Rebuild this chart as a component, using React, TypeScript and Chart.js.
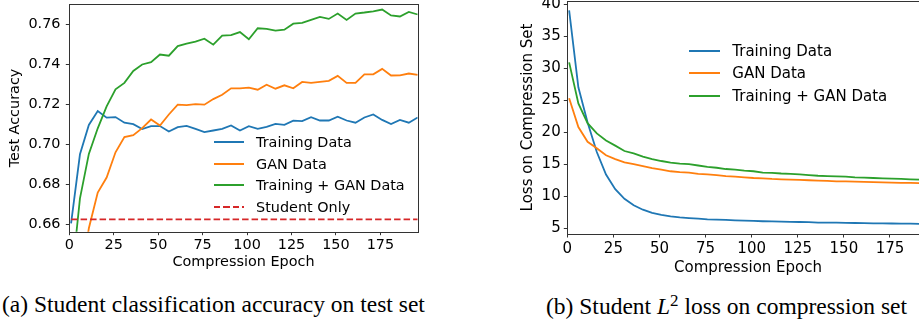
import React, { useEffect, useRef } from 'react';
import { Chart, registerables } from 'chart.js';

Chart.register(...registerables);

// ---------- data ----------
const epochs = [1, 6, 11, 16, 21, 26, 31, 36, 41, 46, 51, 56, 61, 66, 71, 76, 81, 86, 91, 96,
  101, 106, 111, 116, 121, 126, 131, 136, 141, 146, 151, 156, 161, 166, 171, 176, 181, 186, 191, 196];

const accTraining = [0.6605, 0.695, 0.7097, 0.7166, 0.7133, 0.7136, 0.7108, 0.7101, 0.7076, 0.7091,
  0.7091, 0.7064, 0.7086, 0.7092, 0.7077, 0.7061, 0.7069, 0.7077, 0.7094, 0.7069,
  0.7091, 0.7077, 0.7087, 0.7102, 0.7097, 0.7118, 0.7116, 0.7136, 0.7119, 0.7119,
  0.7138, 0.7119, 0.7108, 0.7134, 0.7149, 0.7122, 0.7101, 0.7122, 0.7108, 0.7134];

const accGAN = [0.60, 0.63, 0.658, 0.6759, 0.6834, 0.696, 0.7036, 0.7046, 0.7081, 0.7124,
  0.7094, 0.7149, 0.7198, 0.7196, 0.7201, 0.7198, 0.7226, 0.7248, 0.728, 0.728,
  0.7283, 0.7273, 0.7298, 0.7278, 0.7295, 0.728, 0.7312, 0.7307, 0.7312, 0.7317,
  0.7342, 0.7307, 0.7307, 0.735, 0.735, 0.7377, 0.7344, 0.7345, 0.7354, 0.7347];

const accCombined = [0.630, 0.673, 0.6952, 0.708, 0.719, 0.7275, 0.7307, 0.7367, 0.7399, 0.7411,
  0.7449, 0.7443, 0.7491, 0.7503, 0.7513, 0.7528, 0.7498, 0.7543, 0.7546, 0.7561,
  0.7525, 0.758, 0.7577, 0.7568, 0.7573, 0.7603, 0.7607, 0.7622, 0.7637, 0.7627,
  0.7654, 0.7622, 0.7654, 0.7659, 0.7665, 0.7674, 0.7644, 0.7639, 0.7662, 0.7649];

const studentOnlyAcc = 0.6625;

const lossTraining = [39.0, 27.0, 21.5, 16.9, 13.4, 11.1, 9.6, 8.6, 7.9, 7.4,
  7.1, 6.85, 6.7, 6.6, 6.5, 6.4, 6.35, 6.3, 6.25, 6.2,
  6.15, 6.1, 6.08, 6.05, 6.0, 5.98, 5.95, 5.9, 5.9, 5.88,
  5.85, 5.83, 5.8, 5.78, 5.77, 5.75, 5.73, 5.72, 5.7, 5.68];

const lossGAN = [25.3, 20.8, 18.5, 17.5, 16.4, 15.8, 15.3, 15.0, 14.7, 14.4,
  14.15, 13.9, 13.75, 13.7, 13.5, 13.4, 13.3, 13.15, 13.05, 12.95,
  12.85, 12.8, 12.7, 12.65, 12.6, 12.55, 12.5, 12.45, 12.4, 12.33,
  12.33, 12.28, 12.23, 12.2, 12.18, 12.13, 12.1, 12.08, 12.05, 12.03];

const lossCombined = [30.9, 24.5, 21.4, 19.8, 18.7, 17.9, 17.06, 16.7, 16.2, 15.8,
  15.5, 15.25, 15.1, 15.0, 14.8, 14.6, 14.45, 14.25, 14.15, 14.0,
  13.9, 13.7, 13.65, 13.55, 13.5, 13.4, 13.3, 13.2, 13.15, 13.1,
  13.05, 12.95, 12.9, 12.85, 12.8, 12.75, 12.7, 12.65, 12.6, 12.55];

const xTicks = [0, 25, 50, 75, 100, 125, 150, 175];
const accTicks = [0.66, 0.68, 0.70, 0.72, 0.74, 0.76];
const lossTicks = [5, 10, 15, 20, 25, 30, 35, 40];

const seriesNames = ['Training Data', 'GAN Data', 'Training + GAN Data', 'Student Only'];
const xTitle = 'Compression Epoch';
const accTitle = 'Test Accuracy';
const lossTitle = 'Loss on Compression Set';

// ---------- style ----------
const BLUE = '#1f77b4';
const ORANGE = '#ff7f0e';
const GREEN = '#2ca02c';
const RED = '#d62728';
const SANS = "'DejaVu Sans', sans-serif";
const SERIF = "'Liberation Serif', 'Times New Roman', serif";
const LW = 1.8;

function pts(ys: number[]) {
  return epochs.map((x, i) => ({ x, y: ys[i] }));
}

const framePlugin = {
  id: 'frame',
  afterDatasetsDraw(chart: any) {
    const { ctx, chartArea } = chart;
    const l = Math.round(chartArea.left) + 0.5;
    const t = Math.round(chartArea.top) + 0.5;
    const r = Math.round(chartArea.right) + 0.5;
    const b = Math.round(chartArea.bottom) + 0.5;
    ctx.save();
    ctx.strokeStyle = '#333';
    ctx.lineWidth = 1;
    ctx.strokeRect(l, t, r - l, b - t);
    ctx.restore();
  },
};

type Cfg = {
  datasets: any[];
  yMin: number;
  yMax: number;
  yTicks: number[];
  yFmt: (v: number) => string;
  yTitle: string;
  size: number;
  yWidth: number;
  xHeight: number;
  padding: { left: number; top: number; right: number; bottom: number };
  yTitlePad: number;
  xTickPad: number;
  yTickPad: number;
};

function makeConfig(p: Cfg): any {
  const grid = { drawOnChartArea: false, drawTicks: true, tickLength: 3.5, color: '#333', lineWidth: 1 };
  const font = { family: SANS, size: p.size };
  return {
    type: 'line',
    data: { datasets: p.datasets },
    plugins: [framePlugin],
    options: {
      animation: false,
      responsive: false,
      devicePixelRatio: 1,
      layout: { padding: p.padding },
      plugins: { legend: { display: false }, tooltip: { enabled: false } },
      elements: { point: { radius: 0 }, line: { tension: 0 } },
      scales: {
        x: {
          type: 'linear',
          min: 0,
          max: 196,
          afterBuildTicks: (s: any) => {
            s.ticks = xTicks.map((v) => ({ value: v }));
          },
          afterFit: (s: any) => {
            s.height = p.xHeight;
            s.paddingLeft = 0;
            s.paddingRight = 0;
          },
          grid,
          border: { display: false },
          ticks: { autoSkip: false, maxRotation: 0, padding: p.xTickPad, color: '#000', font },
          title: { display: true, text: xTitle, color: '#000', font, padding: 0 },
        },
        y: {
          type: 'linear',
          min: p.yMin,
          max: p.yMax,
          afterBuildTicks: (s: any) => {
            s.ticks = p.yTicks.map((v) => ({ value: v }));
          },
          afterFit: (s: any) => {
            s.width = p.yWidth;
            s.paddingTop = 0;
            s.paddingBottom = 0;
          },
          grid,
          border: { display: false },
          ticks: { autoSkip: false, padding: p.yTickPad, color: '#000', font, callback: (v: number) => p.yFmt(v) },
          title: { display: true, text: p.yTitle, color: '#000', font, padding: { top: p.yTitlePad, bottom: 0 } },
        },
      },
    },
  };
}

function line(label: string, data: any[], color: string, order: number, dash?: number[]) {
  return {
    label,
    data,
    borderColor: color,
    backgroundColor: color,
    borderWidth: LW,
    borderDash: dash || [],
    pointRadius: 0,
    fill: false,
    clip: 0,
    order,
  };
}

const accConfig = () =>
  makeConfig({
    datasets: [
      line(seriesNames[0], pts(accTraining), BLUE, 4),
      line(seriesNames[1], pts(accGAN), ORANGE, 3),
      line(seriesNames[2], pts(accCombined), GREEN, 2),
      line(
        seriesNames[3],
        [
          { x: epochs[0], y: studentOnlyAcc },
          { x: epochs[epochs.length - 1], y: studentOnlyAcc },
        ],
        RED,
        1,
        [6.5, 3]
      ),
    ],
    yMin: 0.6563,
    yMax: 0.77,
    yTicks: accTicks,
    yFmt: (v) => v.toFixed(2),
    yTitle: accTitle,
    size: 14.4,
    yWidth: 69.3,
    xHeight: 39.7,
    padding: { left: 0, top: 4.3, right: 42.3, bottom: 18.6 },
    yTitlePad: 6.9,
    xTickPad: 1,
    yTickPad: 5.3,
  });

const lossConfig = () =>
  makeConfig({
    datasets: [
      line(seriesNames[0], pts(lossTraining), BLUE, 3),
      line(seriesNames[1], pts(lossGAN), ORANGE, 2),
      line(seriesNames[2], pts(lossCombined), GREEN, 1),
    ],
    yMin: 4.11,
    yMax: 40.47,
    yTicks: lossTicks,
    yFmt: (v) => String(v),
    yTitle: lossTitle,
    size: 15,
    yWidth: 107.3,
    xHeight: 43,
    padding: { left: 0, top: 11, right: 11.3, bottom: 13 },
    yTitlePad: 59.4,
    xTickPad: 2.9,
    yTickPad: 3.1,
  });

function ChartCanvas({ make, left, top, width, height }: { make: () => any; left: number; top: number; width: number; height: number }) {
  const ref = useRef<HTMLCanvasElement>(null);
  useEffect(() => {
    const chart = new Chart(ref.current as HTMLCanvasElement, make());
    return () => chart.destroy();
  }, []);
  return (
    <canvas
      ref={ref}
      width={width}
      height={height}
      style={{ position: 'absolute', left, top, width, height, display: 'block' }}
    />
  );
}

type LegendItem = { label: string; color: string; dashed?: boolean; y: number };

function Legend({ items, lineLeft, lineWidth, textLeft, size }: { items: LegendItem[]; lineLeft: number; lineWidth: number; textLeft: number; size: number }) {
  return (
    <>
      {items.map((it) => (
        <React.Fragment key={it.label}>
          <div
            style={{
              position: 'absolute',
              left: lineLeft,
              top: it.y - LW / 2,
              width: lineWidth,
              height: LW,
              background: it.dashed
                ? `repeating-linear-gradient(90deg, ${it.color} 0px, ${it.color} 6.5px, transparent 6.5px, transparent 9.5px)`
                : it.color,
            }}
          />
          <div
            style={{
              position: 'absolute',
              left: textLeft,
              top: it.y - 10,
              height: 20,
              lineHeight: '20px',
              fontFamily: SANS,
              fontSize: size,
              color: '#000',
              whiteSpace: 'nowrap',
            }}
          >
            {it.label}
          </div>
        </React.Fragment>
      ))}
    </>
  );
}

export default function App() {
  const leftLegend: LegendItem[] = [
    { label: seriesNames[0], color: BLUE, y: 142.3 },
    { label: seriesNames[1], color: ORANGE, y: 163.7 },
    { label: seriesNames[2], color: GREEN, y: 185.3 },
    { label: seriesNames[3], color: RED, dashed: true, y: 207 },
  ];
  const rightLegend: LegendItem[] = [
    { label: seriesNames[0], color: BLUE, y: 51 },
    { label: seriesNames[1], color: ORANGE, y: 73.3 },
    { label: seriesNames[2], color: GREEN, y: 96 },
  ];
  const captionStyle: React.CSSProperties = {
    position: 'absolute',
    fontFamily: SERIF,
    fontSize: 23.5,
    lineHeight: '23.5px',
    color: '#000',
    whiteSpace: 'nowrap',
  };
  return (
    <div
      style={{
        position: 'absolute',
        left: 0,
        top: 0,
        width: 919,
        height: 326,
        overflow: 'hidden',
        background: '#fff',
      }}
    >
      <ChartCanvas make={accConfig} left={0} top={0} width={460} height={290} />
      <ChartCanvas make={lossConfig} left={460} top={-10} width={480} height={300} />
      <Legend items={leftLegend} lineLeft={213.7} lineWidth={30.6} textLeft={256} size={14.4} />
      <Legend items={rightLegend} lineLeft={688.7} lineWidth={31.6} textLeft={732.3} size={15} />
      <div style={{ ...captionStyle, left: 2, top: 293 }}>(a) Student classification accuracy on test set</div>
      <div style={{ ...captionStyle, left: 546, top: 295.3 }}>
        (b) Student <i>L</i>
        <span style={{ fontSize: 17, position: 'relative', top: -8 }}>2</span> loss on compression set
      </div>
    </div>
  );
}
